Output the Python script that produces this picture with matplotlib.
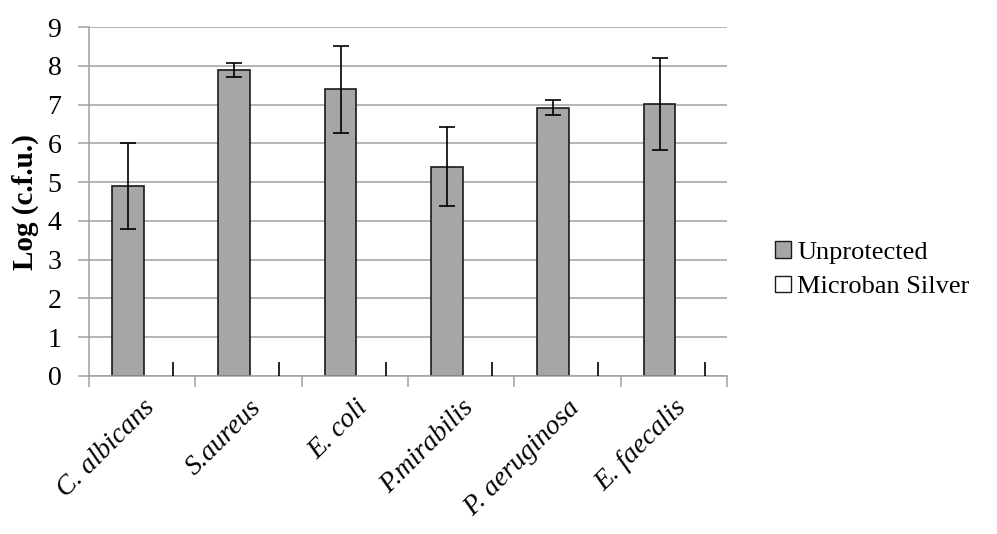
import numpy as np
import matplotlib
matplotlib.use('Agg')
import matplotlib.pyplot as plt
from matplotlib.patches import Patch

# Data
categories = ['C. albicans', 'S.aureus', 'E. coli', 'P.mirabilis',
              'P. aeruginosa', 'E. faecalis']
unprotected = [4.9, 7.9, 7.4, 5.4, 6.92, 7.02]
unprotected_err = [1.1, 0.18, 1.12, 1.02, 0.19, 1.19]
microban = [0, 0, 0, 0, 0, 0]
microban_err_up = [0.35, 0.35, 0.35, 0.35, 0.35, 0.35]
yticks = [0, 1, 2, 3, 4, 5, 6, 7, 8, 9]

plt.rcParams['font.family'] = ['Liberation Serif', 'DejaVu Serif']

fig = plt.figure(figsize=(9.97, 5.34), dpi=100)
ax = fig.add_axes([0.0893, 0.296, 0.64, 0.653])

grid_col = '#a0a0a0'
bar_col = '#a6a6a6'
x = np.arange(len(categories))
w = 0.296

# Grid first so the bars sit on top
ax.set_axisbelow(True)
ax.yaxis.grid(True, color=grid_col, linewidth=1.1)

ax.bar(x - 0.135, unprotected, w, color=bar_col, edgecolor='#1a1a1a',
       linewidth=1.2, zorder=2)
ax.errorbar(x - 0.135, unprotected, yerr=unprotected_err, fmt='none',
            ecolor='black', elinewidth=1.2, capsize=5.5, capthick=1.2,
            zorder=3)

ax.bar(x + 0.29, microban, w, color='white', edgecolor='none', zorder=2)
ax.errorbar(x + 0.29, microban,
            yerr=[np.zeros(len(microban)), microban_err_up], fmt='none',
            ecolor='black', elinewidth=1.2, capsize=0, zorder=3)

ax.set_xlim(-0.5, len(categories) - 0.5)
ax.set_ylim(0, 9)
ax.set_yticks(yticks)
ax.set_yticklabels([str(v) for v in yticks], fontsize=20)

# Category boundary ticks on x axis, labels at centres
ax.set_xticks(np.arange(len(categories) + 1) - 0.5)
ax.set_xticklabels([])
ax.set_xticks(x, minor=True)
ax.set_xticklabels(categories, minor=True, rotation=45, ha='right',
                   va='top', fontsize=20, style='italic',
                   rotation_mode='anchor')
ax.tick_params(axis='x', which='minor', length=0, pad=14)
ax.tick_params(axis='x', which='major', length=8, color=grid_col,
               width=1.1, direction='out')
ax.tick_params(axis='y', length=8, color=grid_col, width=1.1, pad=12)

for s in ['top', 'right']:
    ax.spines[s].set_visible(False)
for s in ['left', 'bottom']:
    ax.spines[s].set_color(grid_col)
    ax.spines[s].set_linewidth(1.1)

ax.set_ylabel('Log (c.f.u.)', fontsize=21, fontweight='bold', labelpad=6)

handles = [Patch(facecolor=bar_col, edgecolor='#1a1a1a', label='Unprotected'),
           Patch(facecolor='white', edgecolor='#1a1a1a', label='Microban Silver')]
fig.legend(handles=handles, loc='center left', bbox_to_anchor=(0.777, 0.495),
           frameon=False, fontsize=19, handlelength=0.6, handleheight=0.6,
           handletextpad=0.25, labelspacing=0.45, borderpad=0,
           borderaxespad=0)

fig.savefig('out.png', dpi=100)
